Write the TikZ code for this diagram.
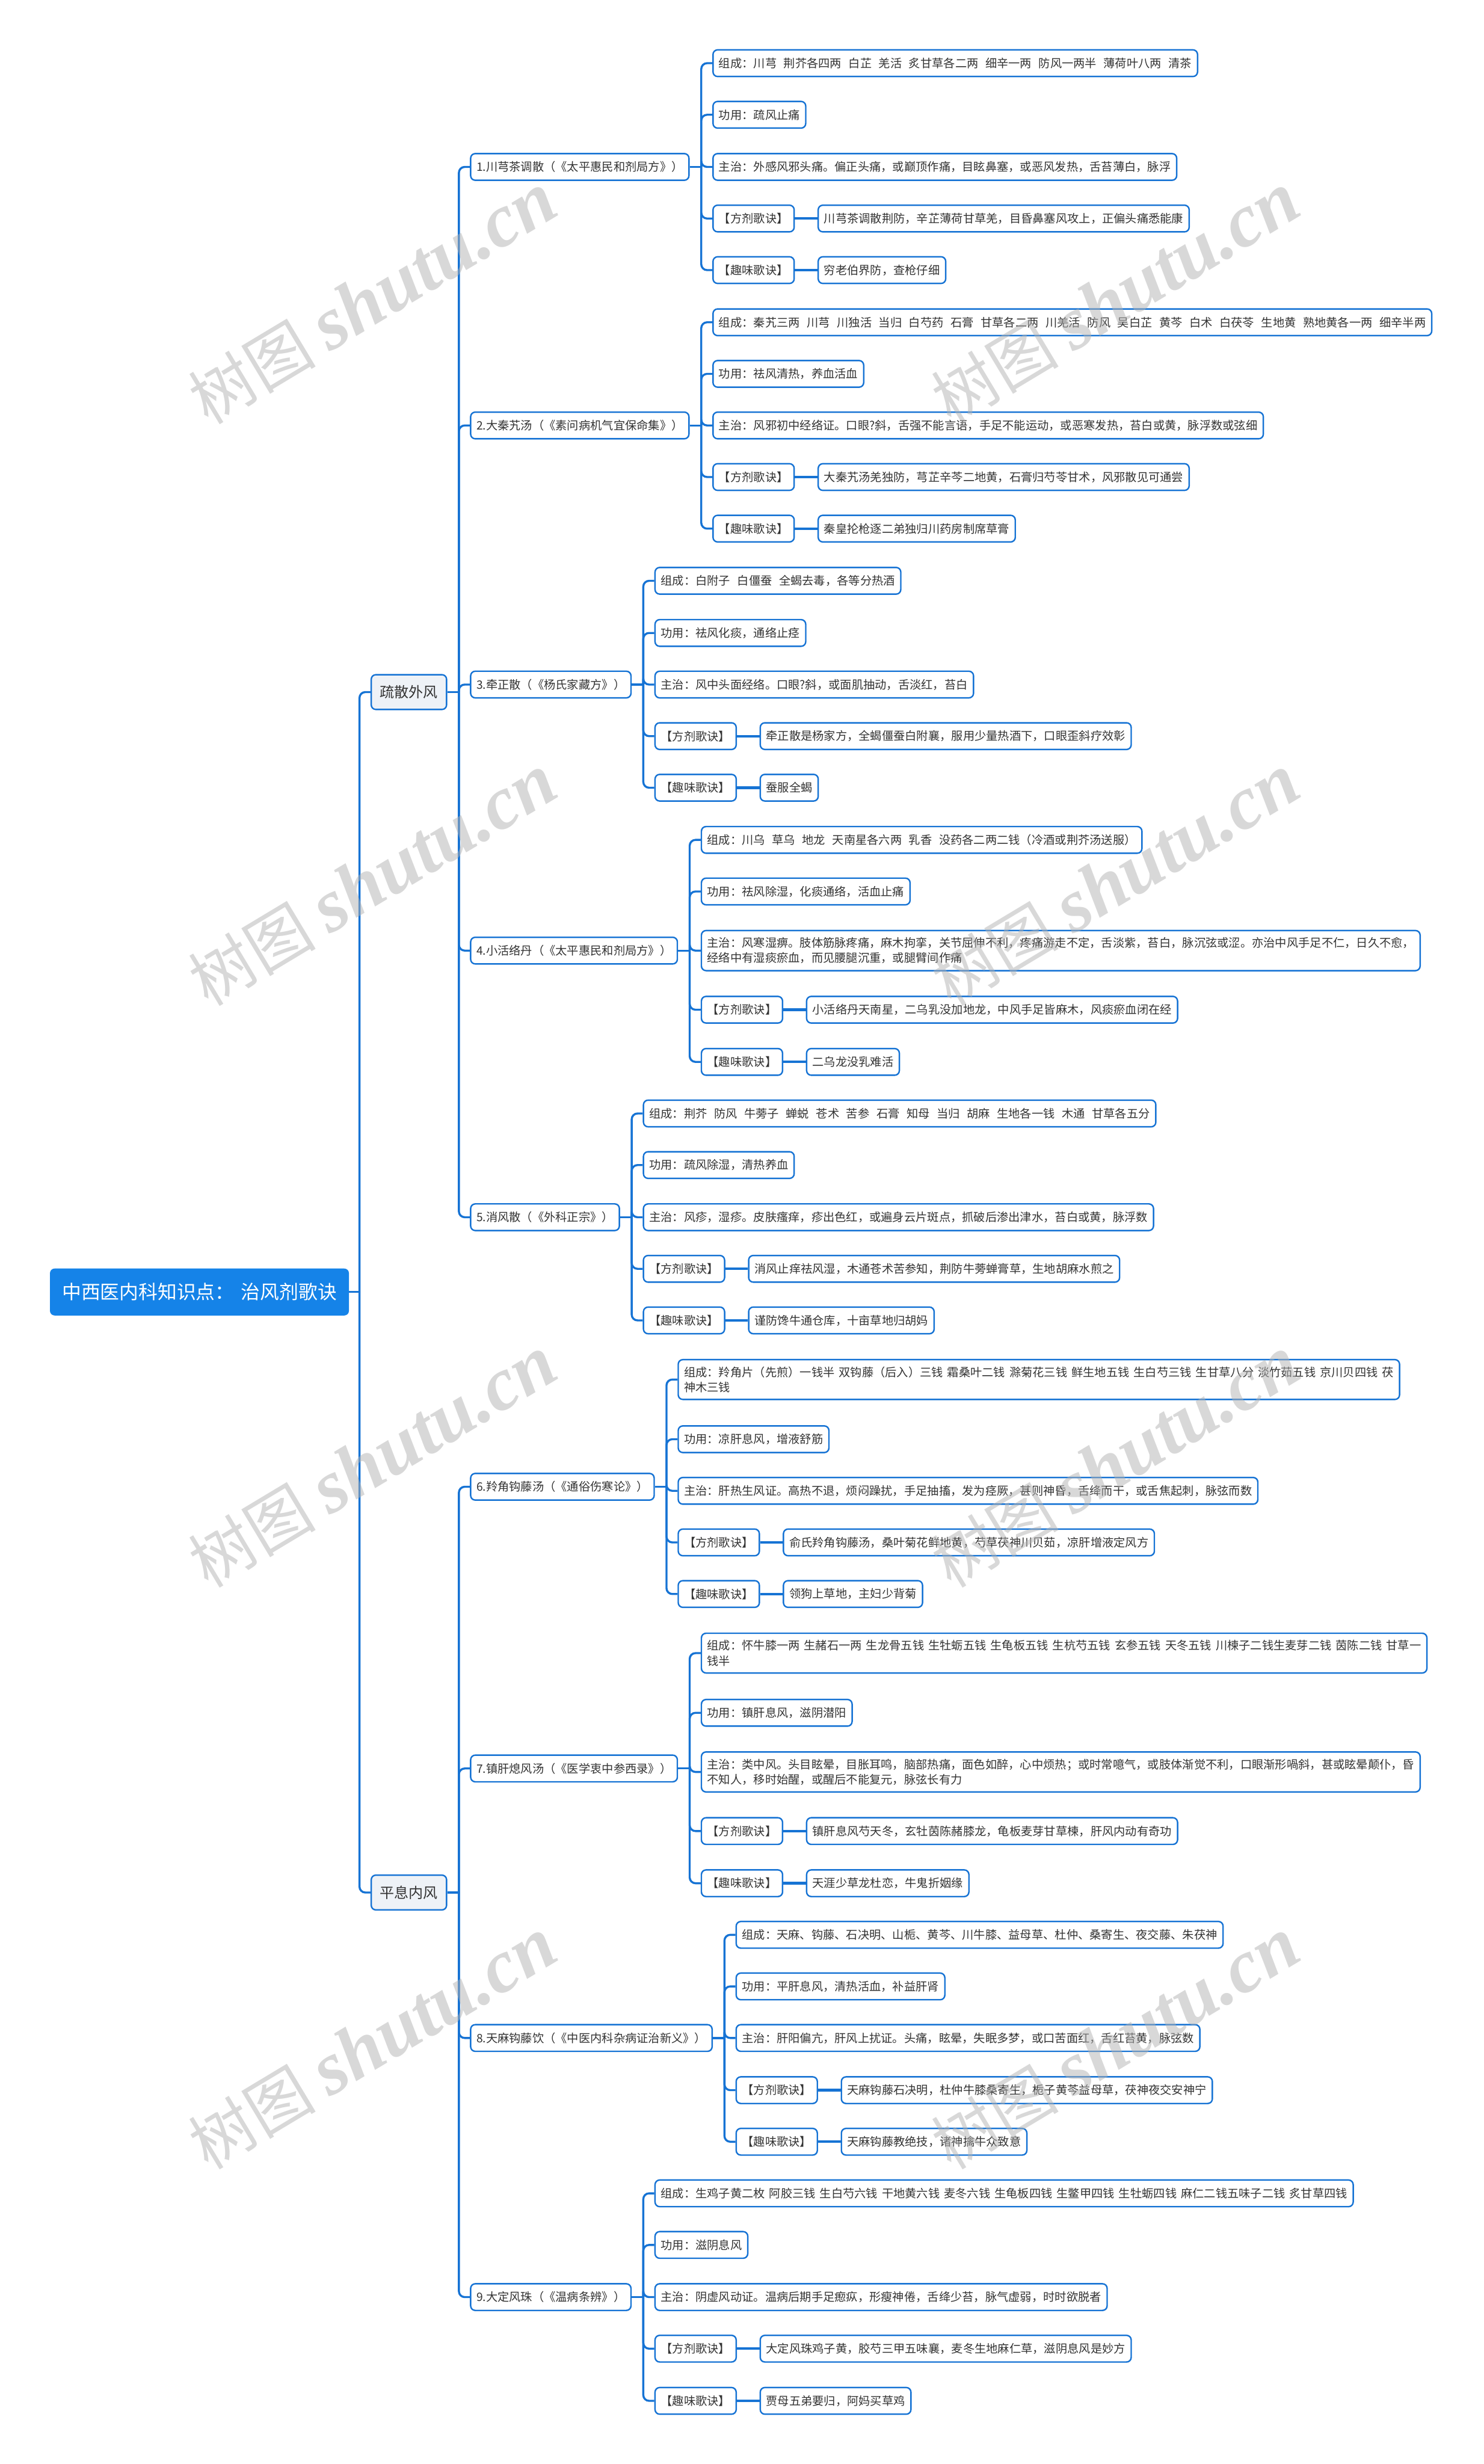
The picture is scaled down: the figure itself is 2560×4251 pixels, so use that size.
\documentclass[tikz,border=0pt]{standalone}
\usepackage{fontspec}
\setmainfont{Noto Sans CJK SC}[WordSpace=1.6]
\newfontfamily\wmlat{Liberation Serif}
\usetikzlibrary{calc}
\definecolor{lineblue}{RGB}{22,115,212}
\definecolor{rootblue}{RGB}{21,131,232}
\definecolor{lvlfill}{RGB}{238,242,247}
\definecolor{txt}{RGB}{51,51,51}
\newcommand\ws{\hspace{0.6em}}
\newcommand\mkleaf[4]{%
  \node[box,anchor=west] (#1) at ($(#2 |- 0,#3)+(19,0)$) {#4};
  \draw[conn] (#2) |- (#1.west);}
\newcommand\mkpair[5]{%
  \mkleaf{#1}{#2}{#3}{#4}
  \node[box,anchor=west] (#1v) at ($(#1.east)+(39,0)$) {#5};
  \draw[stub] (#1.east) -- (#1v.west);}
\newcommand\mkbus[2]{%
  \coordinate (#2) at ($(#1.east)+(20,0)$);
  \draw[conn] (#1.east) -- (#2);}
\begin{document}
\begin{tikzpicture}[x=1pt,y=-1pt,
  box/.style={draw=lineblue, line width=2.5pt, fill=white, rounded corners=8pt, text=txt,
    font=\fontsize{20}{26}\selectfont, inner xsep=10pt, inner ysep=12pt, minimum height=46pt, align=left},
  rootbox/.style={fill=rootblue, rounded corners=8pt, text=white,
    font=\fontsize{33}{39}\selectfont, inner xsep=21pt, minimum height=81pt},
  lvl/.style={fill=lvlfill, draw=lineblue, line width=2.5pt, rounded corners=8pt, text=txt,
    font=\fontsize{25}{30}\selectfont, inner xsep=15pt, minimum height=60pt},
  conn/.style={draw=lineblue, line width=3.5pt, rounded corners=10pt},
  stub/.style={draw=lineblue, line width=4.5pt},
  wm/.style={text=gray!60, text opacity=0.5, rotate=31, inner sep=0pt}]
\useasboundingbox (0,0) rectangle (2560,4251);

% root
\node[rootbox, anchor=west] (root) at (86,2229) {中西医内科知识点：\ 治风剂歌诀};
\coordinate (rb) at ($(root.east)+(18,0)$);
\draw[conn] (root.east) -- (rb);
\node[lvl, anchor=west] (k1) at ($(rb |- 0,1194)+(19,0)$) {疏散外风};
\draw[conn] (rb) |- (k1.west);
\node[lvl, anchor=west] (k2) at ($(rb |- 0,3265)+(19,0)$) {平息内风};
\draw[conn] (rb) |- (k2.west);

\mkbus{k1}{kb1}
\mkbus{k2}{kb2}
\mkleaf{n1}{kb1}{288}{1.川芎茶调散（《太平惠民和剂局方》）}
\mkleaf{n2}{kb1}{734}{2.大秦艽汤（《素问病机气宜保命集》）}
\mkleaf{n3}{kb1}{1181}{3.牵正散（《杨氏家藏方》）}
\mkleaf{n4}{kb1}{1640}{4.小活络丹（《太平惠民和剂局方》）}
\mkleaf{n5}{kb1}{2100}{5.消风散（《外科正宗》）}
\mkleaf{n6}{kb2}{2565}{6.羚角钩藤汤（《通俗伤寒论》）}
\mkleaf{n7}{kb2}{3051}{7.镇肝熄风汤（《医学衷中参西录》）}
\mkleaf{n8}{kb2}{3516}{8.天麻钩藤饮（《中医内科杂病证治新义》）}
\mkleaf{n9}{kb2}{3963}{9.大定风珠（《温病条辨》）}

% group 1
\mkbus{n1}{b1}
\mkleaf{a1}{b1}{109}{组成：川芎\ws 荆芥各四两\ws 白芷\ws 羌活\ws 炙甘草各二两\ws 细辛一两\ws 防风一两半\ws 薄荷叶八两\ws 清茶}
\mkleaf{a2}{b1}{198}{功用：疏风止痛}
\mkleaf{a3}{b1}{288}{主治：外感风邪头痛。偏正头痛，或巅顶作痛，目眩鼻塞，或恶风发热，舌苔薄白，脉浮}
\mkpair{a4}{b1}{377}{【方剂歌诀】}{川芎茶调散荆防，辛芷薄荷甘草羌，目昏鼻塞风攻上，正偏头痛悉能康}
\mkpair{a5}{b1}{466}{【趣味歌诀】}{穷老伯界防，查枪仔细}

% group 2
\mkbus{n2}{b2}
\mkleaf{c1}{b2}{556}{组成：秦艽三两\ws 川芎\ws 川独活\ws 当归\ws 白芍药\ws 石膏\ws 甘草各二两\ws 川羌活\ws 防风\ws 吴白芷\ws 黄芩\ws 白术\ws 白茯苓\ws 生地黄\ws 熟地黄各一两\ws 细辛半两}
\mkleaf{c2}{b2}{645}{功用：祛风清热，养血活血}
\mkleaf{c3}{b2}{734}{主治：风邪初中经络证。口眼?斜，舌强不能言语，手足不能运动，或恶寒发热，苔白或黄，脉浮数或弦细}
\mkpair{c4}{b2}{823}{【方剂歌诀】}{大秦艽汤羌独防，芎芷辛芩二地黄，石膏归芍苓甘术，风邪散见可通尝}
\mkpair{c5}{b2}{912}{【趣味歌诀】}{秦皇抡枪逐二弟独归川药房制席草膏}

% group 3
\mkbus{n3}{b3}
\mkleaf{d1}{b3}{1002}{组成：白附子\ws 白僵蚕\ws 全蝎去毒，各等分热酒}
\mkleaf{d2}{b3}{1092}{功用：祛风化痰，通络止痉}
\mkleaf{d3}{b3}{1181}{主治：风中头面经络。口眼?斜，或面肌抽动，舌淡红，苔白}
\mkpair{d4}{b3}{1270}{【方剂歌诀】}{牵正散是杨家方，全蝎僵蚕白附襄，服用少量热酒下，口眼歪斜疗效彰}
\mkpair{d5}{b3}{1359}{【趣味歌诀】}{蚕服全蝎}

% group 4
\mkbus{n4}{b4}
\mkleaf{e1}{b4}{1449}{组成：川乌\ws 草乌\ws 地龙\ws 天南星各六两\ws 乳香\ws 没药各二两二钱（冷酒或荆芥汤送服）}
\mkleaf{e2}{b4}{1538}{功用：祛风除湿，化痰通络，活血止痛}
\mkleaf{e3}{b4}{1640}{主治：风寒湿痹。肢体筋脉疼痛，麻木拘挛，关节屈伸不利，疼痛游走不定，舌淡紫，苔白，脉沉弦或涩。亦治中风手足不仁，日久不愈，\\经络中有湿痰瘀血，而见腰腿沉重，或腿臂间作痛}
\mkpair{e4}{b4}{1742}{【方剂歌诀】}{小活络丹天南星，二乌乳没加地龙，中风手足皆麻木，风痰瘀血闭在经}
\mkpair{e5}{b4}{1832}{【趣味歌诀】}{二乌龙没乳难活}

% group 5
\mkbus{n5}{b5}
\mkleaf{f1}{b5}{1921}{组成：荆芥\ws 防风\ws 牛蒡子\ws 蝉蜕\ws 苍术\ws 苦参\ws 石膏\ws 知母\ws 当归\ws 胡麻\ws 生地各一钱\ws 木通\ws 甘草各五分}
\mkleaf{f2}{b5}{2010}{功用：疏风除湿，清热养血}
\mkleaf{f3}{b5}{2100}{主治：风疹，湿疹。皮肤瘙痒，疹出色红，或遍身云片斑点，抓破后渗出津水，苔白或黄，脉浮数}
\mkpair{f4}{b5}{2189}{【方剂歌诀】}{消风止痒祛风湿，木通苍术苦参知，荆防牛蒡蝉膏草，生地胡麻水煎之}
\mkpair{f5}{b5}{2278}{【趣味歌诀】}{谨防馋牛通仓库，十亩草地归胡妈}

% group 6
\mkbus{n6}{b6}
\mkleaf{g1}{b6}{2380}{组成：羚角片（先煎）一钱半 双钩藤（后入）三钱 霜桑叶二钱 滁菊花三钱 鲜生地五钱 生白芍三钱 生甘草八分 淡竹茹五钱 京川贝四钱 茯\\神木三钱}
\mkleaf{g2}{b6}{2483}{功用：凉肝息风，增液舒筋}
\mkleaf{g3}{b6}{2572}{主治：肝热生风证。高热不退，烦闷躁扰，手足抽搐，发为痉厥，甚则神昏，舌绛而干，或舌焦起刺，脉弦而数}
\mkpair{g4}{b6}{2661}{【方剂歌诀】}{俞氏羚角钩藤汤，桑叶菊花鲜地黄，芍草茯神川贝茹，凉肝增液定风方}
\mkpair{g5}{b6}{2750}{【趣味歌诀】}{领狗上草地，主妇少背菊}

% group 7
\mkbus{n7}{b7}
\mkleaf{h1}{b7}{2852}{组成：怀牛膝一两 生赭石一两 生龙骨五钱 生牡蛎五钱 生龟板五钱 生杭芍五钱 玄参五钱 天冬五钱 川楝子二钱生麦芽二钱 茵陈二钱 甘草一\\钱半}
\mkleaf{h2}{b7}{2955}{功用：镇肝息风，滋阴潜阳}
\mkleaf{h3}{b7}{3057}{主治：类中风。头目眩晕，目胀耳鸣，脑部热痛，面色如醉，心中烦热；或时常噫气，或肢体渐觉不利，口眼渐形喎斜，甚或眩晕颠仆，昏\\不知人，移时始醒，或醒后不能复元，脉弦长有力}
\mkpair{h4}{b7}{3159}{【方剂歌诀】}{镇肝息风芍天冬，玄牡茵陈赭膝龙，龟板麦芽甘草楝，肝风内动有奇功}
\mkpair{h5}{b7}{3249}{【趣味歌诀】}{天涯少草龙杜恋，牛鬼折姻缘}

% group 8
\mkbus{n8}{b8}
\mkleaf{i1}{b8}{3338}{组成：天麻、钩藤、石决明、山栀、黄芩、川牛膝、益母草、杜仲、桑寄生、夜交藤、朱茯神}
\mkleaf{i2}{b8}{3427}{功用：平肝息风，清热活血，补益肝肾}
\mkleaf{i3}{b8}{3516}{主治：肝阳偏亢，肝风上扰证。头痛，眩晕，失眠多梦，或口苦面红，舌红苔黄，脉弦数}
\mkpair{i4}{b8}{3606}{【方剂歌诀】}{天麻钩藤石决明，杜仲牛膝桑寄生，栀子黄芩益母草，茯神夜交安神宁}
\mkpair{i5}{b8}{3695}{【趣味歌诀】}{天麻钩藤教绝技，诸神擒牛众致意}

% group 9
\mkbus{n9}{b9}
\mkleaf{j1}{b9}{3784}{组成：生鸡子黄二枚 阿胶三钱 生白芍六钱 干地黄六钱 麦冬六钱 生龟板四钱 生鳖甲四钱 生牡蛎四钱 麻仁二钱五味子二钱 炙甘草四钱}
\mkleaf{j2}{b9}{3873}{功用：滋阴息风}
\mkleaf{j3}{b9}{3963}{主治：阴虚风动证。温病后期手足瘛疭，形瘦神倦，舌绛少苔，脉气虚弱，时时欲脱者}
\mkpair{j4}{b9}{4052}{【方剂歌诀】}{大定风珠鸡子黄，胶芍三甲五味襄，麦冬生地麻仁草，滋阴息风是妙方}
\mkpair{j5}{b9}{4142}{【趣味歌诀】}{贾母五弟要归，阿妈买草鸡}

% watermarks
\foreach \wx/\wy [count=\k] in {643/515,1925/515,643/1519,1925/1519,643/2522,1925/2522,643/3526,1925/3526}{
  \node[wm] (wm\k) at (\wx,\wy) {{\fontsize{110}{110}\selectfont 树图}\hspace{25pt}{\wmlat\bfseries\itshape\fontsize{130}{130}\selectfont shutu.cn}};
}
\end{tikzpicture}
\end{document}
